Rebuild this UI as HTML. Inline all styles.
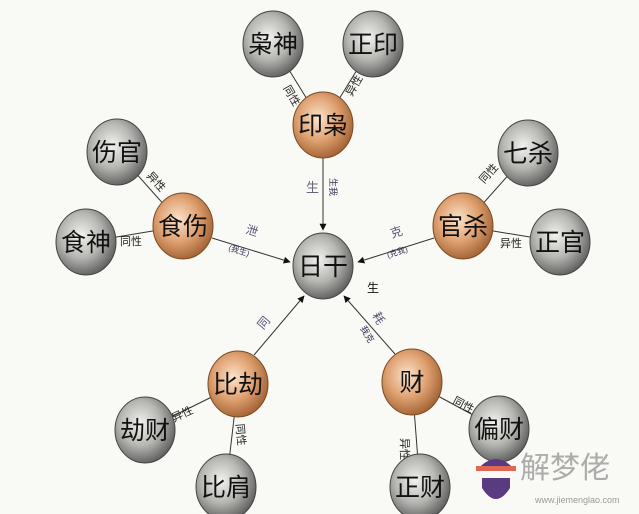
<!DOCTYPE html>
<html><head><meta charset="utf-8"><style>
html,body{margin:0;padding:0;background:#f9faf6;}
svg{display:block;font-family:"Liberation Sans","Noto Sans CJK SC",sans-serif;}
</style></head><body>
<svg width="639" height="514" viewBox="0 0 639 514">
<defs>
<radialGradient id="g" cx="0.42" cy="0.4" r="0.62"><stop offset="0" stop-color="#f2f2f0"/><stop offset="0.55" stop-color="#b5b5b1"/><stop offset="1" stop-color="#606060"/></radialGradient>
<radialGradient id="o" cx="0.42" cy="0.4" r="0.62"><stop offset="0" stop-color="#fbe4cc"/><stop offset="0.55" stop-color="#dfa070"/><stop offset="1" stop-color="#a36335"/></radialGradient>
<marker id="a" viewBox="0 0 10 10" refX="9" refY="5" markerWidth="7" markerHeight="7" orient="auto"><path d="M0,0L10,5L0,10z" fill="#111"/></marker>
</defs>
<g stroke="#333" stroke-width="1">
<line x1="273" y1="44" x2="323" y2="125"/><line x1="373" y1="44" x2="323" y2="125"/>
<line x1="117" y1="152" x2="183" y2="226"/><line x1="86" y1="242" x2="183" y2="226"/>
<line x1="528" y1="153" x2="463" y2="226"/><line x1="560" y1="242" x2="463" y2="226"/>
<line x1="145" y1="430" x2="238" y2="384"/><line x1="226" y1="487" x2="238" y2="384"/>
<line x1="499" y1="429" x2="412" y2="382"/><line x1="420" y1="487" x2="412" y2="382"/>
<line x1="323" y1="158" x2="323" y2="230" marker-end="url(#a)"/>
<line x1="212" y1="238" x2="290" y2="262" marker-end="url(#a)"/>
<line x1="434" y1="238" x2="358" y2="262" marker-end="url(#a)"/>
<line x1="254" y1="355" x2="304" y2="296" marker-end="url(#a)"/>
<line x1="395" y1="354" x2="344" y2="296" marker-end="url(#a)"/>
</g>
<g font-size="11" fill="#222">
<text x="283" y="88" transform="rotate(60 283 88)">同性</text>
<text x="352" y="97" transform="rotate(-60 352 97)">异性</text>
<text x="146" y="176" transform="rotate(48 146 176)">异性</text>
<text x="120" y="245">同性</text>
<text x="484" y="184" transform="rotate(-48 484 184)">同性</text>
<text x="500" y="247">异性</text>
<text x="174" y="422" transform="rotate(-25 174 422)">异性</text>
<text x="236" y="424" transform="rotate(85 236 424)">同性</text>
<text x="452" y="403" transform="rotate(28 452 403)">同性</text>
<text x="401" y="438" transform="rotate(90 401 438)">异性</text>
<text x="306" y="192" fill="#667" font-size="13">生</text>
<text x="330" y="178" transform="rotate(90 330 178)" fill="#335" font-size="9">生我</text>
<text x="245" y="233" fill="#557" transform="rotate(18 245 233)" font-size="12">泄</text>
<text x="228" y="250" fill="#335" font-size="8" transform="rotate(18 228 250)">(我生)</text>
<text x="392" y="238" fill="#557" transform="rotate(-18 392 238)" font-size="12">克</text>
<text x="388" y="258" fill="#335" font-size="8" transform="rotate(-18 388 258)">(克我)</text>
<text x="263" y="330" fill="#557" transform="rotate(-50 263 330)" font-size="12">同</text>
<text x="360" y="328" fill="#335" font-size="9" transform="rotate(60 360 328)">我克</text>
<text x="372" y="315" fill="#557" transform="rotate(60 372 315)" font-size="12">耗</text>
<text x="367" y="292" fill="#111" font-size="12">生</text>
</g>
<g font-size="25" text-anchor="middle" fill="#111">
<ellipse cx="273" cy="44" rx="30" ry="33" fill="url(#g)" stroke="#444"/><text x="273" y="53">枭神</text>
<ellipse cx="373" cy="44" rx="30" ry="33" fill="url(#g)" stroke="#444"/><text x="373" y="53">正印</text>
<ellipse cx="323" cy="125" rx="30" ry="33" fill="url(#o)" stroke="#7a4a25"/><text x="323" y="134">印枭</text>
<ellipse cx="117" cy="152" rx="30" ry="33" fill="url(#g)" stroke="#444"/><text x="117" y="161">伤官</text>
<ellipse cx="183" cy="226" rx="30" ry="33" fill="url(#o)" stroke="#7a4a25"/><text x="183" y="235">食伤</text>
<ellipse cx="86" cy="242" rx="30" ry="33" fill="url(#g)" stroke="#444"/><text x="86" y="251">食神</text>
<ellipse cx="323" cy="266" rx="30" ry="33" fill="url(#g)" stroke="#444"/><text x="323" y="275">日干</text>
<ellipse cx="463" cy="226" rx="30" ry="33" fill="url(#o)" stroke="#7a4a25"/><text x="463" y="235">官杀</text>
<ellipse cx="528" cy="153" rx="30" ry="33" fill="url(#g)" stroke="#444"/><text x="528" y="162">七杀</text>
<ellipse cx="560" cy="242" rx="30" ry="33" fill="url(#g)" stroke="#444"/><text x="560" y="251">正官</text>
<ellipse cx="238" cy="384" rx="30" ry="33" fill="url(#o)" stroke="#7a4a25"/><text x="238" y="393">比劫</text>
<ellipse cx="145" cy="430" rx="30" ry="33" fill="url(#g)" stroke="#444"/><text x="145" y="439">劫财</text>
<ellipse cx="226" cy="487" rx="30" ry="33" fill="url(#g)" stroke="#444"/><text x="226" y="496">比肩</text>
<ellipse cx="412" cy="382" rx="30" ry="33" fill="url(#o)" stroke="#7a4a25"/><text x="412" y="391">财</text>
<ellipse cx="499" cy="429" rx="30" ry="33" fill="url(#g)" stroke="#444"/><text x="499" y="438">偏财</text>
<ellipse cx="420" cy="487" rx="30" ry="33" fill="url(#g)" stroke="#444"/><text x="420" y="496">正财</text>
</g>
<g>
<path d="M477,470 Q496,448 515,470 Z" fill="#5a3a80"/>
<rect x="476" y="466" width="40" height="5" fill="#d65"/>
<path d="M482,478 h28 v10 q-14,22 -28,0z" fill="#5a3a80"/>
<text x="520" y="478" font-size="30" fill="#999" opacity="0.8">解梦佬</text>
<text x="535" y="503" font-size="9" fill="#999">www.jiemenglao.com</text>
</g>
</svg>
</body></html>
